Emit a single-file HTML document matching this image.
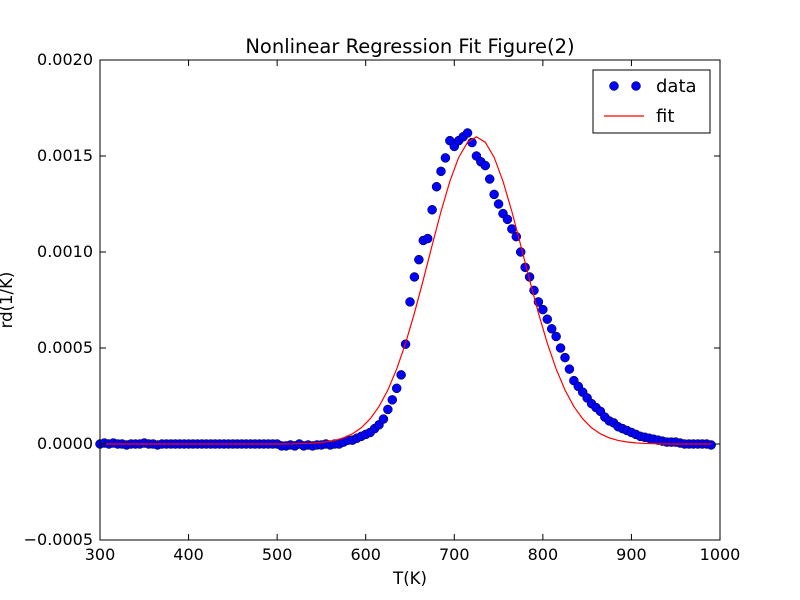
<!DOCTYPE html>
<html><head><meta charset="utf-8">
<style>body{margin:0;background:#fff}svg{display:block;font-family:"DejaVu Sans","Liberation Sans",sans-serif}</style>
</head><body>
<svg id="chart" width="800" height="600">
<rect x="0" y="0" width="800" height="600" fill="#fff"/>
<text x="410" y="53" font-size="19.5" text-anchor="middle">Nonlinear Regression Fit Figure(2)</text>
<g id="marks"></g>
<g id="axes"></g>
<text x="410" y="584" font-size="16.5" text-anchor="middle">T(K)</text>
<text x="0" y="0" font-size="16.5" text-anchor="middle" transform="translate(12,300) rotate(-90)">rd(1/K)</text>
<g>
<rect x="593" y="70" width="117" height="63" fill="#fff" stroke="#000" stroke-width="1"/>
<circle cx="614" cy="86" r="4.5" fill="#0000ff" stroke="#000" stroke-width="0.5"/>
<circle cx="636" cy="86" r="4.5" fill="#0000ff" stroke="#000" stroke-width="0.5"/>
<text x="656" y="92" font-size="18">data</text>
<line x1="604" y1="116" x2="644" y2="116" stroke="#ff0000" stroke-width="1.2"/>
<text x="656" y="122" font-size="18">fit</text>
</g>
</svg>
<script>
const xTicks=[300,400,500,600,700,800,900,1000];
const yTicks=[-0.0005,0,0.0005,0.001,0.0015,0.002];
const yTickLabels=["\u22120.0005","0.0000","0.0005","0.0010","0.0015","0.0020"];
const dataT=[];for(let t=300;t<=990;t+=5)dataT.push(t);
const dataVals=[0,0.005,0,0.005,0,0,-0.005,0,0,0,0.005,0,0,-0.005,0,0,0,0,0,0,0,0,0,0,0,0,0,0,0,0,0,0,0,0,0,0,0,0,0,0,0,-0.01,-0.01,-0.005,-0.01,0,-0.01,-0.005,-0.01,-0.005,-0.005,0,-0.005,0,0,
0.01,0.02,0.02,0.03,0.04,0.05,0.06,0.08,0.10,0.13,0.18,0.23,0.29,0.36,0.52,0.74,0.87,0.96,1.06,1.07,1.22,1.34,1.42,1.49,1.58,1.55,1.58,1.60,1.62,1.57,1.50,1.47,1.45,1.38,1.30,1.25,1.20,1.17,1.12,1.08,1.00,0.92,0.87,0.80,0.74,0.70,0.65,0.60,0.56,0.50,0.45,0.39,0.33,0.30,0.27,0.24,0.21,0.19,0.17,0.14,0.12,0.11,0.09,0.08,0.07,0.06,0.05,0.04,0.035,0.03,0.025,0.02,0.015,0.01,0.01,0.01,0.005,0,0,0,0,0,0,-0.005];
const fitT=[300,500,515,525,535,545,555,565,575,585,595,605,615,625,635,645,655,665,675,685,695,705,715,725,735,745,755,765,775,785,795,805,815,825,835,845,855,865,875,885,895,905,915,925,935,950,990];
const fitVals=[0,0,0.0003,0.0015,0.003,0.0057,0.0105,0.0186,0.0319,0.053,0.0845,0.131,0.195,0.281,0.391,0.525,0.682,0.855,1.035,1.211,1.368,1.493,1.572,1.6,1.572,1.493,1.368,1.211,1.035,0.855,0.682,0.525,0.391,0.281,0.195,0.131,0.0845,0.053,0.0319,0.0186,0.0105,0.0057,0.003,0.0015,0.0003,0,0];
const X0=100,X1=720,Y0=60,Y1=540;
const xS=t=>X0+(t-300)/700*(X1-X0);
const yS=v=>Y1-(v+0.0005)/0.0025*(Y1-Y0);
const NS="http://www.w3.org/2000/svg";
const marks=document.getElementById('marks'),axes=document.getElementById('axes');
function mk(tag,attrs,parent){const e=document.createElementNS(NS,tag);for(const k in attrs)e.setAttribute(k,attrs[k]);parent.appendChild(e);return e;}
dataT.forEach((t,i)=>{
 const c=mk('circle',{cx:xS(t),cy:yS(dataVals[i]*1e-3),r:4.5,fill:'#0000ff',stroke:'#000','stroke-width':0.5},marks);
 
 
});
const pts=fitT.map((t,i)=>xS(t)+','+yS(fitVals[i]*1e-3)).join(' ');
const fl=mk('polyline',{points:pts,fill:'none',stroke:'#ff0000','stroke-width':1.2},marks);


const fr=mk('rect',{x:X0,y:Y0,width:X1-X0,height:Y1-Y0,fill:'none',stroke:'#000','stroke-width':1},axes);


xTicks.forEach(t=>{
 const x=xS(t);
 mk('line',{x1:x,y1:Y1,x2:x,y2:Y1-6,stroke:'#000'},axes);
 mk('line',{x1:x,y1:Y0,x2:x,y2:Y0+6,stroke:'#000'},axes);
 const tx=mk('text',{x:x,y:Y1+20,'font-size':16,'text-anchor':'middle'},axes);
 tx.textContent=t;
 
 
});
yTicks.forEach((v,i)=>{
 const y=yS(v);
 mk('line',{x1:X0,y1:y,x2:X0+6,y2:y,stroke:'#000'},axes);
 mk('line',{x1:X1,y1:y,x2:X1-6,y2:y,stroke:'#000'},axes);
 const tx=mk('text',{x:X0-7,y:y+5,'font-size':16,'text-anchor':'end'},axes);
 tx.textContent=yTickLabels[i];
 
 
});
</script>
</body></html>
